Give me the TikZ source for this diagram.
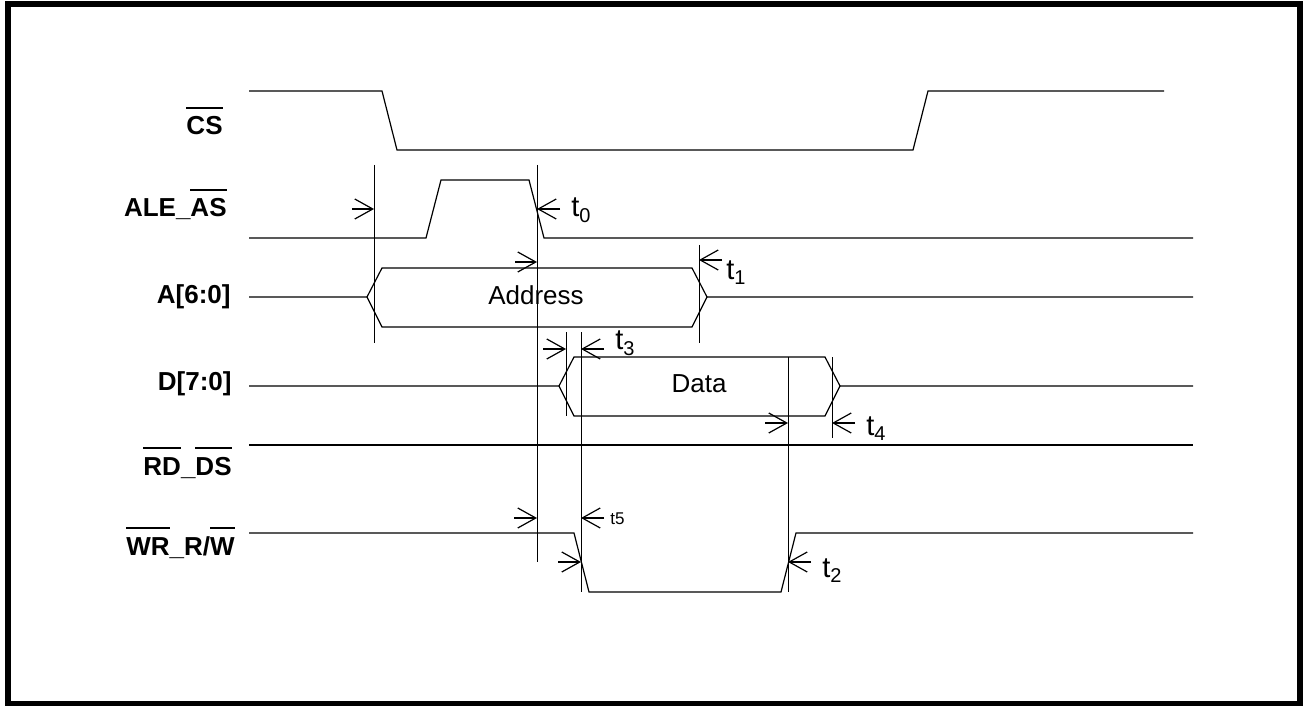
\documentclass[tikz,border=0pt]{standalone}
\usepackage{fontspec}
\setmainfont{Liberation Sans}
\usetikzlibrary{arrows.meta}
\newcommand{\ovl}[1]{\leavevmode\vbox{\hrule height 1pt\kern 4pt\hbox{#1}}}
\newcommand{\tlab}[1]{t\raisebox{-2.5pt}{\fontsize{10}{10}\selectfont #1}}
\begin{document}
\begin{tikzpicture}[x=0.5pt,y=-0.5pt,
  sig/.style={line width=0.6pt},
  tick/.style={line width=0.5pt},
  dim/.style={line width=0.6pt,-{Straight Barb[length=9pt,width=10pt]}},
  signame/.style={font=\fontsize{13}{15}\selectfont\bfseries,inner sep=0pt,anchor=base east},
  tname/.style={font=\fontsize{14.5}{16}\selectfont,inner sep=0pt,anchor=base west},
  busname/.style={font=\fontsize{13}{15}\selectfont,inner sep=0pt,anchor=base}]
\useasboundingbox (0,0) rectangle (1303,706);
\draw[line width=3pt] (8,4.5) rectangle (1300,704);

% signal names
\node[signame] (cs) at (223,135) {\ovl{CS}};
\node[signame] (ale) at (227,217) {ALE\_\ovl{AS}};
\node[signame] (addr) at (231,304) {A[6:0]};
\node[signame] (dat) at (232,390) {D[7:0]};
\node[signame] (rd) at (232,475) {\ovl{RD}\_\ovl{DS}};
\node[signame] (wr) at (235,555) {\ovl{WR}\_R/\ovl{W}};

% waveforms
\draw[sig] (249,91) -- (382,91) -- (397,150) -- (913,150) -- (928,91) -- (1164,91);
\draw[sig] (249,238) -- (426,238) -- (441,180) -- (529,180) -- (544,238) -- (1193,238);
\draw[sig] (249,297) -- (367,297) -- (382,268) -- (692,268) -- (707,297) -- (1193,297);
\draw[sig] (367,297) -- (382,327) -- (692,327) -- (707,297);
\draw[sig] (249,386) -- (559,386) -- (574,357) -- (825,357) -- (840,386) -- (1193,386);
\draw[sig] (559,386) -- (574,416) -- (825,416) -- (840,386);
\draw[sig] (249,445) -- (1193,445);
\draw[sig] (249,533) -- (574,533) -- (589,592) -- (781,592) -- (796,533) -- (1193,533);

\node[busname] (addrtxt) at (536,305) {Address};
\node[busname] (datatxt) at (699,393) {Data};

% timing marks
\foreach \x/\ya/\yb in {374/165/343, 537/165/562, 699/245/343, 566/332/416, 581/332/592, 788/357/592, 832/357/438}
  {\draw[tick] (\x,\ya) -- (\x,\yb);}
\foreach \xa/\xb/\y in {352/374/209, 560/537/209, 515/537/262, 722/699/260, 543/566/349, 604/581/349,
  765/788/423, 855/832/423, 514/537/518, 604/581/518, 558/581/562, 811/788/562}
  {\draw[dim] (\xa,\y) -- (\xb,\y);}

\node[tname] (t0) at (571,217) {\tlab{0}};
\node[tname] (t1) at (726,279) {\tlab{1}};
\node[tname] (t3) at (615,350) {\tlab{3}};
\node[tname] (t4) at (866,435) {\tlab{4}};
\node[tname] (t2) at (822,577) {\tlab{2}};
\node[tname,font=\fontsize{8.5}{10}\selectfont] (t5) at (610,524) {t5};

\end{tikzpicture}
\end{document}
